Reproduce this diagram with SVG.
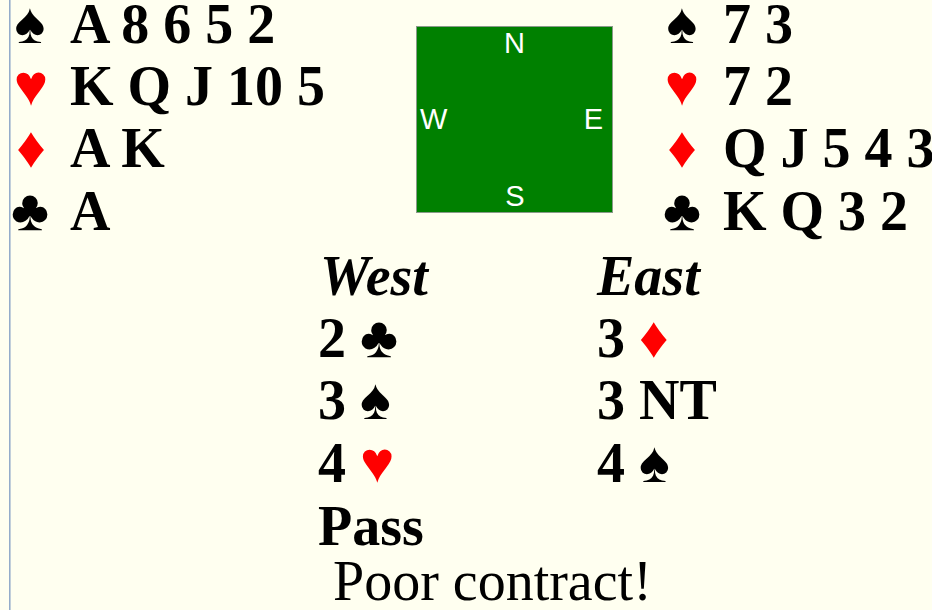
<svg xmlns="http://www.w3.org/2000/svg" width="932" height="610" viewBox="0 0 932 610">
<style>
.t{font-family:"Liberation Serif","Times New Roman",serif;font-weight:bold;font-size:56px;fill:#000}
.i{font-style:italic}
.r{fill:#ff0000}
.s{font-family:"Liberation Serif","Times New Roman",serif;font-size:58px;font-weight:normal}
.c{font-family:"Liberation Sans",Arial,sans-serif;font-size:29px;fill:#fff}
.n{font-family:"Liberation Serif","Times New Roman",serif;font-size:56px;fill:#000}
</style>
<rect x="0" y="0" width="932" height="610" fill="#fffff0"/>
<line x1="9.8" y1="0" x2="9.8" y2="610" stroke="#8fa8c8" stroke-width="1.5"/>
<g id="west-hand">
<text class="s" x="30" y="43" text-anchor="middle">♠</text>
<text class="t" x="70" y="43">A 8 6 5 2</text>
<text class="s r" x="31" y="105" text-anchor="middle">♥</text>
<text class="t" x="70" y="105">K Q J 10 5</text>
<text class="s r" x="31" y="167" text-anchor="middle">♦</text>
<text class="t" x="70" y="167">A K</text>
<text class="s" x="30" y="230" text-anchor="middle">♣</text>
<text class="t" x="70" y="230">A</text>
</g>
<g id="table">
<rect x="416.5" y="26.5" width="196" height="186" fill="#008000" stroke="#8a9a8a" stroke-width="1"/>
<text class="c" x="514.5" y="53" text-anchor="middle">N</text>
<text class="c" x="420" y="129">W</text>
<text class="c" x="603" y="129" text-anchor="end">E</text>
<text class="c" x="515" y="206" text-anchor="middle">S</text>
</g>
<g id="east-hand">
<text class="s" x="682" y="43" text-anchor="middle">♠</text>
<text class="t" x="723" y="43">7 3</text>
<text class="s r" x="682" y="105" text-anchor="middle">♥</text>
<text class="t" x="723" y="105">7 2</text>
<text class="s r" x="682" y="167" text-anchor="middle">♦</text>
<text class="t" x="723" y="167">Q J 5 4 3</text>
<text class="s" x="682" y="230" text-anchor="middle">♣</text>
<text class="t" x="723" y="230">K Q 3 2</text>
</g>
<g id="bidding">
<text class="t i" x="320" y="295">West</text>
<text class="t i" x="597" y="295">East</text>
<text class="t" x="318" y="357">2 <tspan class="s">♣</tspan></text>
<text class="t" x="597" y="357">3 <tspan class="s r">♦</tspan></text>
<text class="t" x="318" y="419">3 <tspan class="s">♠</tspan></text>
<text class="t" x="597" y="419">3 NT</text>
<text class="t" x="318" y="482">4 <tspan class="s r">♥</tspan></text>
<text class="t" x="597" y="482">4 <tspan class="s">♠</tspan></text>
<text class="t" x="318" y="545">Pass</text>
<text class="n" x="333" y="600">Poor contract!</text>
</g>
</svg>
